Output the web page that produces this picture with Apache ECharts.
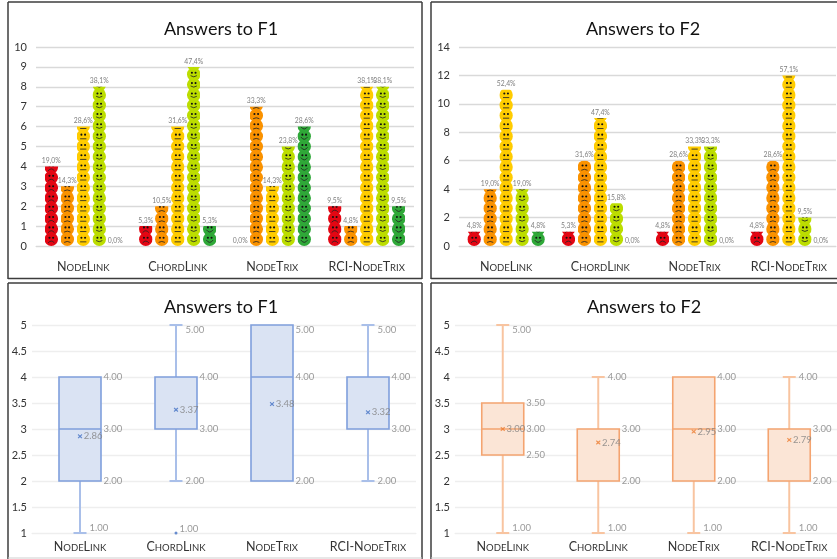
<!DOCTYPE html>
<html><head><meta charset="utf-8">
<style>html,body{margin:0;padding:0;background:#fff;overflow:hidden}#c{width:837px;height:559px}</style>
<script src="https://cdn.jsdelivr.net/npm/echarts@6/dist/echarts.min.js"></script>
</head><body><div id="c"></div>
<script>
const categories = ['NodeLink','ChordLink','NodeTrix','RCI-NodeTrix'];
const answerNames = ['Very bad','Bad','Neutral','Good','Very good'];

// Smiley counts per answer level, one array per category order
const f1Counts = [
  [4,1,0,2],
  [3,2,7,1],
  [6,6,3,8],
  [8,9,5,8],
  [0,1,6,2]
];
const f1Percent = [
  ['19,0%','5,3%','0,0%','9,5%'],
  ['14,3%','10,5%','33,3%','4,8%'],
  ['28,6%','31,6%','14,3%','38,1%'],
  ['38,1%','47,4%','23,8%','38,1%'],
  ['0,0%','5,3%','28,6%','9,5%']
];
const f2Counts = [
  [1,1,1,1],
  [4,6,6,6],
  [11,9,7,12],
  [4,3,7,2],
  [1,0,0,0]
];
const f2Percent = [
  ['4,8%','5,3%','4,8%','4,8%'],
  ['19,0%','31,6%','28,6%','28,6%'],
  ['52,4%','47,4%','33,3%','57,1%'],
  ['19,0%','15,8%','33,3%','9,5%'],
  ['4,8%','0,0%','0,0%','0,0%']
];

// Box plot statistics
const f1Min = [1,2,2,2];
const f1Q1 = [2,3,2,3];
const f1Median = [3,3,4,3];
const f1Q3 = [4,4,5,4];
const f1Max = [4,5,5,5];
const f1Mean = [2.86,3.37,3.48,3.32];
const f1Outliers = [[1,1]];

const f2Min = [1,1,1,1];
const f2Q1 = [2.5,2,2,2];
const f2Median = [3,3,3,3];
const f2Q3 = [3.5,3,4,3];
const f2Max = [5,4,4,4];
const f2Mean = [3,2.74,2.95,2.79];
const f2Outliers = [];

const FONT = 'Lato, "Open Sans", sans-serif';
const faceColors = ['#E30613','#FA9200','#FFCC00','#BCDD00','#2FA838'];
const mouths = ['M7 20 Q13 13 19 20','M7 19 Q13 15.5 19 19','M7 18 L19 18','M7 15.5 Q13 20 19 15.5','M6.5 14.5 Q13 23.5 19.5 14.5'];
function face(i){
  const svg = '<svg xmlns="http://www.w3.org/2000/svg" width="54" height="54" viewBox="0 0 26 26">'+
    '<circle cx="13" cy="13" r="13" fill="'+faceColors[i]+'"/>'+
    '<circle cx="9.5" cy="10" r="2" fill="#111"/><circle cx="16.5" cy="10" r="2" fill="#111"/>'+
    '<path d="'+mouths[i]+'" fill="none" stroke="#222" stroke-width="1.6"/></svg>';
  return 'image://data:image/svg+xml;charset=utf-8,'+encodeURIComponent(svg);
}
function smallCaps(name){
  return name.replace(/[A-Z\-]+|[a-z]+/g, m => /[a-z]/.test(m) ? '{s|'+m.toUpperCase()+'}' : '{b|'+m+'}');
}
function catAxis(gridIndex, margin){
  return {type:'category', gridIndex, data:categories,
    axisTick:{show:false},
    axisLine:{lineStyle:{color:gridIndex<2?'#d9d9d9':'#eeeeee',width:1}},
    axisLabel:{margin, interval:0, color:'#333', formatter:smallCaps, fontFamily:FONT,
      rich:{b:{fontSize:12.5,fontFamily:FONT,color:'#333',verticalAlign:'bottom',lineHeight:16},
            s:{fontSize:9.5,fontFamily:FONT,color:'#333',verticalAlign:'bottom',lineHeight:16}}}};
}
function valAxis(gridIndex,min,max,interval){
  return {type:'value', gridIndex, min, max, interval,
    axisLine:{show:false}, axisTick:{show:false},
    axisLabel:{color:'#333',fontSize:11,fontFamily:FONT,margin:gridIndex<2?9:5},
    splitLine:{lineStyle:{color:gridIndex<2?'#d9d9d9':'#eeeeee',width:1.4}}};
}
function smileySeries(idx, counts, pct){
  const icons = counts.map((vals,i)=>({
    type:'pictorialBar', name:answerNames[i], xAxisIndex:idx, yAxisIndex:idx,
    symbol:face(i), symbolRepeat:true, symbolClip:true, symbolSize:[13.5,13.5], symbolMargin:-1.5,
    symbolPosition:'start', barWidth:13, barGap:'23%',
    data:vals
  }));
  // transparent bars carry the percentage labels at the true value
  const labels = counts.map((vals,i)=>({
    type:'bar', name:answerNames[i], xAxisIndex:idx, yAxisIndex:idx, silent:true, z:6,
    barWidth:13, barGap:'23%', itemStyle:{color:'rgba(0,0,0,0)'},
    label:{show:true, position:'top', distance:2, fontSize:6.8, color:'#7f7f7f', fontFamily:FONT,
      formatter:p=>pct[i][p.dataIndex]},
    data:vals
  }));
  return icons.concat(labels);
}
function boxSeries(idx, s, fill, border, whisker, mark, axisMin, axisMax){
  const n = categories.length, out = [];
  const edge = v => v===axisMax ? 5 : v===axisMin ? -5 : 0;
  // whiskers and caps
  out.push({type:'custom', xAxisIndex:idx, yAxisIndex:idx, z:2, silent:true,
    encode:{x:0,y:[1,2,3,4]},
    data:categories.map((c,i)=>[i,s.min[i],s.q1[i],s.q3[i],s.max[i]]),
    renderItem(params,api){
      const i=api.value(0), kids=[], style={stroke:whisker,lineWidth:2,fill:'none'};
      const pair=[[api.value(1),api.value(2)],[api.value(4),api.value(3)]];
      pair.forEach(([end,box])=>{
        if(end===box) return;
        const a=api.coord([i,end]), b=api.coord([i,box]);
        kids.push({type:'line',shape:{x1:a[0],y1:a[1],x2:b[0],y2:b[1]},style});
        kids.push({type:'line',shape:{x1:a[0]-6.5,y1:a[1],x2:a[0]+6.5,y2:a[1]},style});
      });
      return {type:'group',children:kids};
    }});
  // box and median
  out.push({type:'boxplot', xAxisIndex:idx, yAxisIndex:idx, z:3, boxWidth:[42,42],
    itemStyle:{color:fill,borderColor:border,borderWidth:1.6},
    data:categories.map((c,i)=>[s.q1[i],s.q1[i],s.median[i],s.q3[i],s.q3[i]])});
  // value labels
  const labels=[];
  for(let i=0;i<n;i++){
    const boxVals=[...new Set([s.q1[i],s.median[i],s.q3[i]])];
    boxVals.forEach(v=>labels.push({value:[i,v],label:{offset:[23,edge(v)]}}));
    if(s.max[i]>s.q3[i]) labels.push({value:[i,s.max[i]],label:{offset:[9,edge(s.max[i])]}});
    if(s.min[i]<s.q1[i]) labels.push({value:[i,s.min[i]],label:{offset:[9,edge(s.min[i])]}});
  }
  const labelStyle={show:true,position:'right',distance:0,fontSize:9.5,color:'#7f7f7f',fontFamily:FONT,
    formatter:p=>p.value[1].toFixed(2)};
  out.push({type:'scatter',xAxisIndex:idx,yAxisIndex:idx,z:4,symbolSize:1,itemStyle:{color:'rgba(0,0,0,0)'},
    label:labelStyle,data:labels});
  // mean marks
  out.push({type:'scatter',xAxisIndex:idx,yAxisIndex:idx,z:5,
    symbol:'path://M1 0 L5 3 L9 0 L10 2 L7 5 L10 8 L9 10 L5 7 L1 10 L0 8 L3 5 L0 2 Z',symbolSize:4.5,
    itemStyle:{color:mark},
    label:Object.assign({},labelStyle,{offset:[1.5,0]}),
    data:s.mean.map((v,i)=>[i,v])});
  // outliers
  if(s.outliers.length) out.push({type:'scatter',xAxisIndex:idx,yAxisIndex:idx,z:5,symbolSize:3,
    itemStyle:{color:mark},
    label:Object.assign({},labelStyle,{offset:[2,-4]}),
    data:s.outliers});
  return out;
}
const titleStyle={fontSize:18,fontWeight:'normal',color:'#111',fontFamily:FONT};
const dark='#3c3c3c';
function line(x1,y1,x2,y2,stroke,w){
  return {type:'line',silent:true,z:10,shape:{x1,y1,x2,y2},style:{stroke,lineWidth:w}};
}
const option={
  backgroundColor:'#fff', animation:false,
  title:[
    {text:'Answers to F1',left:216,top:15,textAlign:'center',textStyle:titleStyle},
    {text:'Answers to F2',left:638,top:15,textAlign:'center',textStyle:titleStyle},
    {text:'Answers to F1',left:216,top:293,textAlign:'center',textStyle:titleStyle},
    {text:'Answers to F2',left:639,top:293,textAlign:'center',textStyle:titleStyle}
  ],
  grid:[
    {left:36,top:47,width:378,height:199},
    {left:459,top:47,width:377,height:199},
    {left:32,top:325,width:384,height:208},
    {left:455,top:325,width:384,height:208}
  ],
  xAxis:[catAxis(0,11),catAxis(1,11),catAxis(2,4),catAxis(3,4)],
  yAxis:[valAxis(0,0,10,1),valAxis(1,0,14,2),valAxis(2,1,5,0.5),valAxis(3,1,5,0.5)],
  series:[
    ...smileySeries(0,f1Counts,f1Percent),
    ...smileySeries(1,f2Counts,f2Percent),
    ...boxSeries(2,{min:f1Min,q1:f1Q1,median:f1Median,q3:f1Q3,max:f1Max,mean:f1Mean,outliers:f1Outliers},
      '#DAE3F3','#7F9FDC','#A9BFE9','#4472C4',1,5),
    ...boxSeries(3,{min:f2Min,q1:f2Q1,median:f2Median,q3:f2Q3,max:f2Max,mean:f2Mean,outliers:f2Outliers},
      '#FBE5D6','#F4A470','#F8C4A0','#ED7D31',1,5)
  ],
  graphic:[
    line(8,2,422,2,dark,1.5),line(8,2,8,279,dark,1.5),line(422,2,422,279,dark,1.5),line(8,278.5,422,278.5,dark,1.5),
    line(431,2,837,2,dark,1.5),line(431,2,431,279,dark,1.5),line(431,278.5,837,278.5,dark,1.5),
    line(8,283,422,283,dark,1.5),line(8,283,8,559,dark,1.5),line(422,283,422,559,dark,1.5),line(8,558,422,558,'#cfcfcf',1),
    line(431,283,837,283,dark,1.5),line(431,283,431,559,dark,1.5),line(431,558,837,558,'#cfcfcf',1)
  ]
};
echarts.init(document.getElementById('c'),null,{renderer:'canvas'}).setOption(option);
</script></body></html>
